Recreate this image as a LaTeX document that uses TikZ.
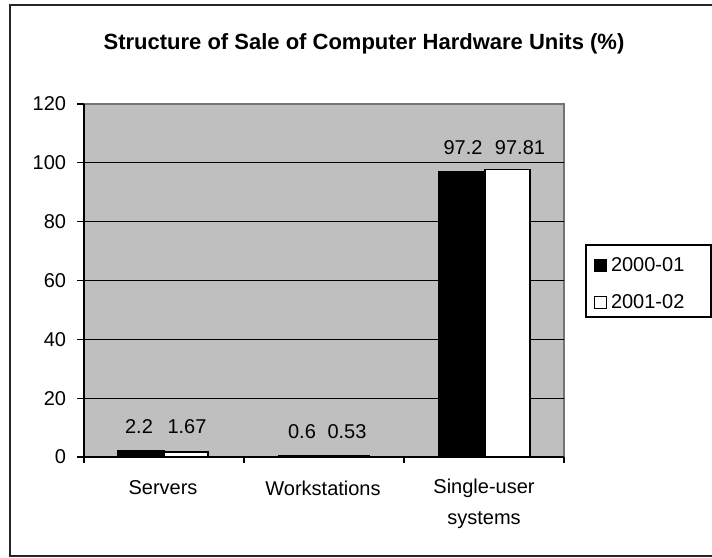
\documentclass[tikz,border=0pt]{standalone}
\usepackage{fontspec}
\setmainfont{Liberation Sans}
\begin{document}
\begin{tikzpicture}[x=1pt,y=-1pt,
  every node/.style={inner sep=0pt,outer sep=0pt,font=\fontsize{20}{24}\selectfont},
  lbl/.style={anchor=center},
  ylbl/.style={anchor=east},
  barA/.style={fill=black,draw=black,line width=1pt},
  barB/.style={fill=white,draw=black,line width=1.5pt},
  grid/.style={draw=black,line width=1.2pt},
  tick/.style={draw=black,line width=1.2pt},
  legsq/.style={draw=black,line width=1pt,minimum size=12pt}]
\useasboundingbox (0,0) rectangle (712,557);
% outer frame
\draw[line width=2pt,black!85] (714,5) -- (10,5) -- (10,555.5) -- (714,555.5);
% title
\node[lbl,font=\fontsize{22}{26}\selectfont\bfseries] (title) at (364,44) {Structure of Sale of Computer Hardware Units (\%)};
% plot area
\fill[fill=black!25] (84,104) rectangle (564,457);
\draw[black!55,line width=1.5pt] (84,104) -- (564,104) -- (564,457);
% grid lines
\foreach \v in {20,40,60,80,100}{
  \draw[grid] (84,{457-\v*2.9417}) -- (564,{457-\v*2.9417});
}
% y axis + ticks + labels
\draw[tick] (84,104) -- (84,457);
\foreach \v in {0,20,40,60,80,100,120}{
  \draw[tick] (77,{457-\v*2.9417}) -- (84,{457-\v*2.9417});
  \node[ylbl] (y\v) at (66,{457-\v*2.9417}) {\v};
}
% bars
\draw[barA] (117,457) rectangle (164,{457-2.2*2.9417});
\draw[barB] (164,457) rectangle (208,{457-1.67*2.9417});
\draw[barA] (278,457) rectangle (323,{457-0.6*2.9417});
\draw[barB] (323,457) rectangle (369,{457-0.53*2.9417});
\draw[barA] (438,457) rectangle (485,{457-97.2*2.9417});
\draw[barB] (485,457) rectangle (530,{457-97.81*2.9417});
% x axis + ticks
\draw[tick] (84,457) -- (564,457);
\foreach \x in {84,244,404,564}{
  \draw[tick] (\x,457) -- (\x,463);
}
% value labels
\node[lbl] (v1) at (139,427) {2.2};
\node[lbl] (v2) at (187,427) {1.67};
\node[lbl] (v3) at (302,432) {0.6};
\node[lbl] (v4) at (347,432) {0.53};
\node[lbl] (v5) at (463,148) {97.2};
\node[lbl] (v6) at (520,148) {97.81};
% category labels
\node[lbl] (c1) at (163,488) {Servers};
\node[lbl] (c2) at (323,488) {Workstations};
\node[lbl] (c3) at (484,488) {Single-user};
\node[lbl] (c3b) at (484,520) {systems};
% legend
\draw[black,line width=1.5pt] (586,245) rectangle (711,317);
\node[legsq,fill=black] (la) at (600,265) {};
\node[legsq,fill=white] (lb) at (600,302) {};
\node[anchor=west] (lta) at (611,265) {2000-01};
\node[anchor=west] (ltb) at (611,302) {2001-02};
\end{tikzpicture}
\end{document}
